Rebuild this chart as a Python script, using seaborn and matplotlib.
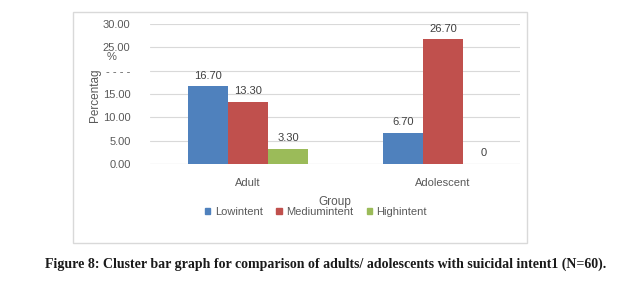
import pandas as pd
import matplotlib.pyplot as plt
import seaborn as sns
from matplotlib.patches import Rectangle

groups = ['Adult', 'Adolescent']
intents = ['Lowintent', 'Mediumintent', 'Highintent']
low = [16.70, 6.70]
medium = [13.30, 26.70]
high = [3.30, 0.0]
value_labels = [['16.70', '6.70'], ['13.30', '26.70'], ['3.30', '0']]
yticks = [0, 5, 10, 15, 20, 25, 30]
ytick_labels = ['0.00', '5.00', '10.00', '15.00', '- - - -', '25.00', '30.00']

df = pd.DataFrame({
    'Group': groups * 3,
    'Intent': [intents[0]] * 2 + [intents[1]] * 2 + [intents[2]] * 2,
    'Value': low + medium + high,
})

sns.set_style('white')
plt.rcParams['font.family'] = ['Liberation Sans', 'DejaVu Sans']
grey = '#595959'

fig = plt.figure(figsize=(6.21, 2.86), dpi=100)
W, H = 621, 286
ax = fig.add_axes([150 / W, 1 - 164 / H, 370 / W, 140 / H])

palette = ['#4F81BD', '#C0504D', '#9BBB59']
sns.barplot(data=df, x='Group', y='Value', hue='Intent', hue_order=intents,
            order=groups, palette=palette, width=0.62, saturation=1,
            linewidth=0, ax=ax, legend=False)

for container, labs in zip(ax.containers, value_labels):
    ax.bar_label(container, labels=labs, padding=4, fontsize=8, color='#404040')

ax.set_ylim(0, 30)
ax.set_xlim(-0.503, 1.395)
ax.set_yticks(yticks)
ax.set_yticklabels(ytick_labels, fontsize=8, color=grey)
ax.tick_params(axis='y', length=0, pad=14)
ax.tick_params(axis='x', length=0, pad=10, labelsize=8, labelcolor=grey)
ax.yaxis.grid(True, color='#D9D9D9', linewidth=0.8)
ax.set_axisbelow(True)
for s in ax.spines.values():
    s.set_visible(False)
ax.axhline(0, color='#D9D9D9', linewidth=0.8, zorder=0)
ax.set_xlabel('Group', fontsize=8.5, color=grey, labelpad=6)
ax.set_ylabel('')

fig.text(95 / W, 1 - 95 / H, 'Percentag', rotation=90, ha='center', va='center',
         fontsize=8.5, color=grey)
fig.text(112 / W, 1 - 57 / H, '%', ha='center', va='center', fontsize=8, color=grey)

# legend
handles = [Rectangle((0, 0), 1, 1, color=c) for c in palette]
fig.legend(handles, intents, loc='center', bbox_to_anchor=(316 / W, 1 - 212 / H),
           ncol=3, frameon=False, fontsize=8, handlelength=0.5, handleheight=0.5,
           columnspacing=1.2, handletextpad=0.4, labelcolor=grey)

# chart border
fig.patches.append(Rectangle((73 / W, 1 - 243 / H), 454 / W, 231 / H,
                             transform=fig.transFigure, fill=False,
                             edgecolor='#D9D9D9', linewidth=1))

fig.text(326 / W, 1 - 264 / H,
         'Figure 8: Cluster bar graph for comparison of adults/ adolescents with suicidal intent1 (N=60).',
         ha='center', va='center', fontsize=10.0, fontweight='bold',
         family=['Liberation Serif', 'DejaVu Serif'], color='#1a1a1a')

fig.savefig('out.png', dpi=100)
